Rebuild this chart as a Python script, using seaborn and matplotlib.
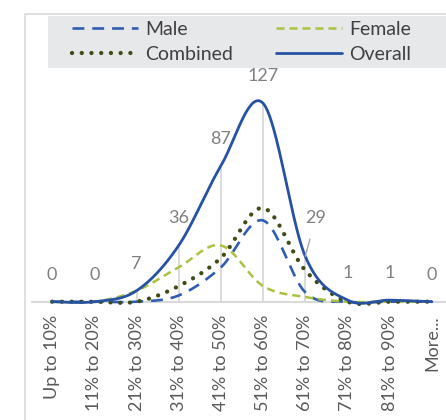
#score distribution chart - smoothed lines like the excel original

import numpy as np
import seaborn as sns
from matplotlib import pyplot as plt
from matplotlib.lines import Line2D
from matplotlib.patches import Rectangle

#data
categories = ["Up to 10%", "11% to 20%", "21% to 30%", "31% to 40%", "41% to 50%",
              "51% to 60%", "61% to 70%", "71% to 80%", "81% to 90%", "More..."]
male = [0, 0, 0, 4, 22, 52, 6, 0, 0, 0]
female = [0, 0, 7, 22, 36, 10, 3, 0, 0, 0]
combined = [0, 0, 0, 10, 28, 60, 20, 0, 0, 0]
overall = [0, 0, 7, 36, 87, 127, 29, 1, 1, 0]


def smooth(ys, n=40):
    #catmull-rom style bezier, roughly what excel does for "smoothed line"
    xs = np.arange(len(ys), dtype=float)
    pts = np.column_stack([xs, np.asarray(ys, dtype=float)])
    P = np.vstack([pts[0], pts, pts[-1]])
    t = np.linspace(0, 1, n)[:, None]
    out = []
    for i in range(1, len(P) - 2):
        p0, p1, p2, p3 = P[i - 1], P[i], P[i + 1], P[i + 2]
        c1 = p1 + (p2 - p0) / 6
        c2 = p2 - (p3 - p1) / 6
        b = (1 - t) ** 3 * p1 + 3 * (1 - t) ** 2 * t * c1 + 3 * (1 - t) * t ** 2 * c2 + t ** 3 * p2
        out.append(b if i == 1 else b[1:])
    out = np.vstack(out)
    return out[:, 0], out[:, 1]


sns.set_style("white")
plt.rcParams['font.family'] = ['Lato', 'DejaVu Sans']

W, H = 446, 420
fig = plt.figure(figsize=(W / 100, H / 100), dpi=100)

#axes: x from -0.5 to 9.5 runs past the right edge (the original is cropped)
x_left, x_right = 31, 453
y_zero, px_per_unit = 301.7, 1.562
ymin, ymax = -5, 140
ax = fig.add_axes([x_left / W, (H - (y_zero + (-ymin) * px_per_unit)) / H,
                   (x_right - x_left) / W, (ymax - ymin) * px_per_unit / H])
ax.set_xlim(-0.5, 9.5)
ax.set_ylim(ymin, ymax)
ax.patch.set_alpha(0)

#drop lines from overall points
x_idx = np.arange(len(categories))
ax.vlines(x_idx, 0, overall, color="#d9d9d9", lw=1.3, zorder=1)
ax.axhline(0, color="#d9d9d9", lw=1.5, zorder=1)

series = [
    ("Male", male, "#2F5DB3", 1.9, (0, (4.5, 3.0)), "butt"),
    ("Female", female, "#A9C23F", 1.8, (0, (3.2, 2.0)), "butt"),
    ("Combined", combined, "#3F4C16", 3.1, (0, (0.01, 2.25)), "round"),
    ("Overall", overall, "#2652A3", 2.0, "-", "butt"),
]
handles = {}
for name, vals, col, lw, ls, cap in series:
    sx, sy = smooth(vals)
    sns.lineplot(x=sx, y=sy, ax=ax, color=col, lw=lw, sort=False, estimator=None, zorder=3)
    ln = ax.lines[-1]
    ln.set_linestyle(ls)
    ln.set_dash_capstyle(cap)
    ln.set_clip_on(False)
    handles[name] = Line2D([], [], color=col, lw=lw, linestyle=ls, dash_capstyle=cap, label=name)

#data labels on overall
for i, v in enumerate(overall):
    if i == 6:
        ax.annotate(str(v), xy=(i, v), xytext=(10, 38), textcoords="offset pixels",
                    ha="center", va="center", fontsize=13, color="#808080",
                    arrowprops=dict(arrowstyle="-", color="#a6a6a6", lw=1, shrinkA=7, shrinkB=0))
    else:
        ax.annotate(str(v), xy=(i, v), xytext=(0, 27), textcoords="offset pixels",
                    ha="center", va="center", fontsize=13, color="#808080")

ax.set_xticks(x_idx)
ax.set_xticklabels(categories, rotation=90, fontsize=13, color="#595959")
ax.set_yticks([])
ax.tick_params(axis="x", length=0, pad=4)
ax.set_xlabel("")
ax.set_ylabel("")
sns.despine(ax=ax, left=True, bottom=True)

#chart area border and legend background
fig.add_artist(Rectangle((25 / W, -0.1), 1.2, (H - 14) / H + 0.1, fill=False,
                         edgecolor="#d9d9d9", lw=1.2, transform=fig.transFigure))
fig.add_artist(Rectangle((48 / W, (H - 67.7) / H), 1.2, 52 / H, facecolor="#e7e8ea",
                         edgecolor="none", transform=fig.transFigure, zorder=0))

#column-wise fill, so order gives Male/Female on row 1
order = ["Male", "Combined", "Female", "Overall"]
fig.legend(handles=[handles[k] for k in order], ncol=2, loc="upper left",
           bbox_to_anchor=(72 / W, (H - 21) / H),
           frameon=False, fontsize=14, handlelength=3.4, handletextpad=0.36,
           columnspacing=2.2, labelspacing=0.42, borderpad=0, borderaxespad=0,
           labelcolor="#404040")

fig.savefig("out.png", dpi=100)
